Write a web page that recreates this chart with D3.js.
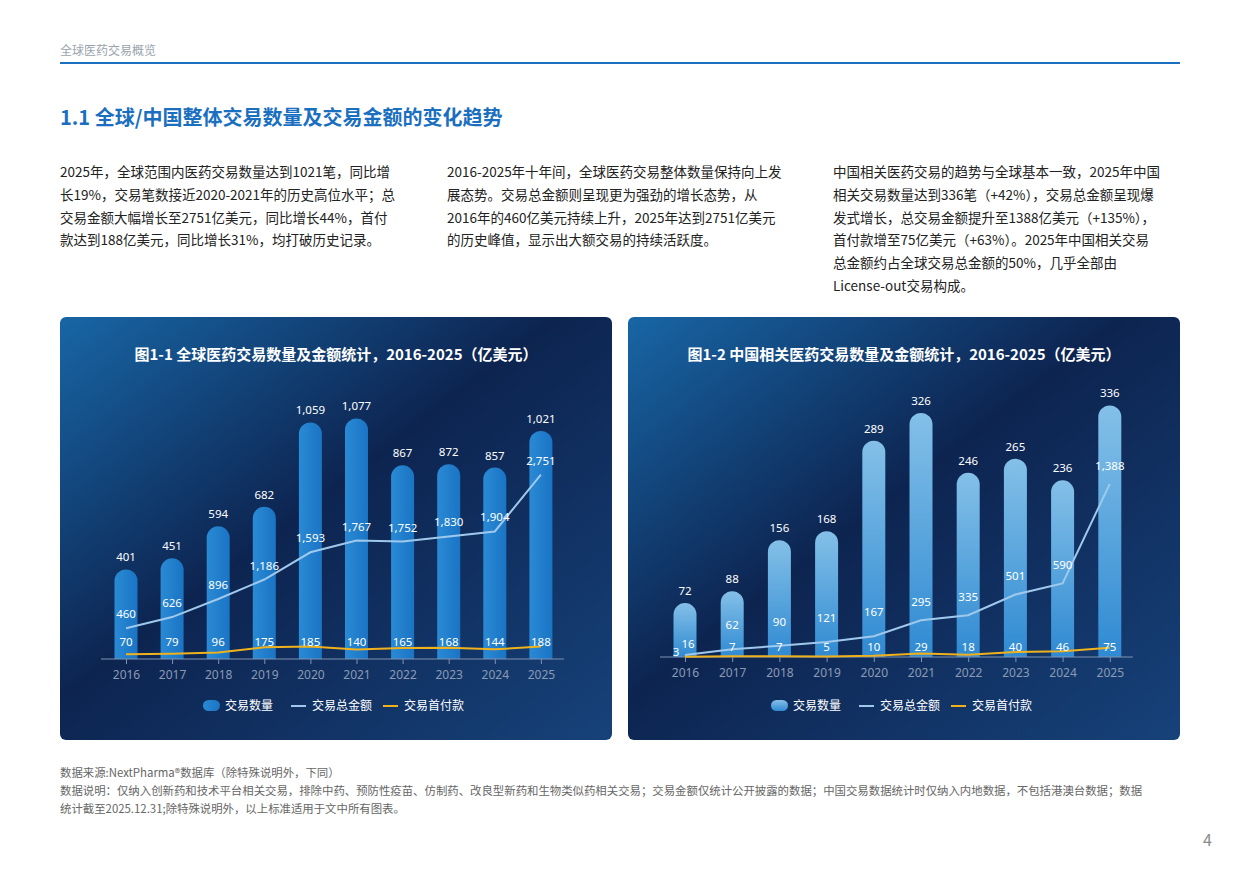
<!DOCTYPE html>
<html><head><meta charset="utf-8">
<script src="https://cdn.jsdelivr.net/npm/d3@7"></script>
<style>body{margin:0;background:#fff;font-family:"Noto Sans CJK SC","Noto Sans",sans-serif;}</style>
</head><body><svg id="page" width="1240" height="876"></svg>
<script>
let years = ["2016","2017","2018","2019","2020","2021","2022","2023","2024","2025"];
let global_count = [401,451,594,682,1059,1077,867,872,857,1021];
let global_amount = [460,626,896,1186,1593,1767,1752,1830,1904,2751];
let global_upfront = [70,79,96,175,185,140,165,168,144,188];
let china_count = [72,88,156,168,289,326,246,265,236,336];
let china_amount = [16,62,90,121,167,295,335,501,590,1388];
let china_upfront = [3,7,7,5,10,29,18,40,46,75];
let legend_names = ["交易数量","交易总金额","交易首付款"];

let paragraphs = [
  {x:60, lines:["2025年，全球范围内医药交易数量达到1021笔，同比增","长19%，交易笔数接近2020-2021年的历史高位水平；总","交易金额大幅增长至2751亿美元，同比增长44%，首付","款达到188亿美元，同比增长31%，均打破历史记录。"]},
  {x:447, lines:["2016-2025年十年间，全球医药交易整体数量保持向上发","展态势。交易总金额则呈现更为强劲的增长态势，从","2016年的460亿美元持续上升，2025年达到2751亿美元","的历史峰值，显示出大额交易的持续活跃度。"]},
  {x:833, lines:["中国相关医药交易的趋势与全球基本一致，2025年中国","相关交易数量达到336笔（+42%），交易总金额呈现爆","发式增长，总交易金额提升至1388亿美元（+135%），","首付款增至75亿美元（+63%）。2025年中国相关交易","总金额约占全球交易总金额的50%，几乎全部由","License-out交易构成。"]}
];

let svg = d3.select("#page");
let defs = svg.append("defs");

// header
svg.append("text").attr("x",60).attr("y",55).attr("font-size",12).attr("fill","#9aa3ad").text("全球医药交易概览");
svg.append("line").attr("x1",60).attr("x2",1180).attr("y1",63).attr("y2",63).attr("stroke","#1b6fc0").attr("stroke-width",2);
svg.append("text").attr("x",60).attr("y",125).attr("font-size",20).attr("font-weight","bold").attr("fill","#1a6fc0").text("1.1 全球/中国整体交易数量及交易金额的变化趋势");

paragraphs.forEach((p)=>{
    p.lines.forEach((l,i)=>{
        svg.append("text").attr("x",p.x).attr("y",177+i*22.8).attr("font-size",13.5).attr("fill","#222").text(l);
    })
})

// panel gradients
let bg = defs.append("linearGradient").attr("id","panel_bg").attr("x1","0").attr("y1","0").attr("x2","1").attr("y2","1");
bg.append("stop").attr("offset","0").attr("stop-color","#1866a6");
bg.append("stop").attr("offset","0.45").attr("stop-color","#0d2450");
bg.append("stop").attr("offset","1").attr("stop-color","#16427a");

let bar_left = defs.append("linearGradient").attr("id","bar_left").attr("x1","0").attr("y1","0").attr("x2","1").attr("y2","0");
bar_left.append("stop").attr("offset","0").attr("stop-color","#2a8ad4");
bar_left.append("stop").attr("offset","1").attr("stop-color","#1a74c4");
let bar_right = defs.append("linearGradient").attr("id","bar_right").attr("x1","0").attr("y1","0").attr("x2","0").attr("y2","1");
bar_right.append("stop").attr("offset","0").attr("stop-color","#84c0e8");
bar_right.append("stop").attr("offset","1").attr("stop-color","#2f8ad2");

function draw_panel(cfg){
    let g = svg.append("g");
    g.append("rect").attr("x",cfg.x).attr("y",317).attr("width",552).attr("height",423).attr("rx",6).attr("fill","url(#panel_bg)");
    g.append("text").attr("x",cfg.x+276).attr("y",360).attr("text-anchor","middle").attr("font-size",15).attr("font-weight","bold").attr("fill","#fff").text(cfg.title);

    let xScale = d3.scalePoint().domain(years).range([cfg.x0, cfg.x0+cfg.step*9]);
    let yBar = d3.scaleLinear().domain([0,cfg.barMax]).range([cfg.base, cfg.base-cfg.h]);
    let yLine = d3.scaleLinear().domain([0,cfg.lineMax]).range([cfg.base, cfg.base-cfg.h]);
    let bw = 23;

    g.selectAll(".bar").data(cfg.count).join("path")
        .attr("fill",cfg.barFill)
        .attr("d",(d,i)=>{
            let x = xScale(years[i])-bw/2, top = yBar(d), r = bw/2;
            return `M${x},${cfg.base}V${top+r}A${r},${r} 0 0 1 ${x+bw},${top+r}V${cfg.base}Z`;
        });

    let xAxis = g.append("g").attr("transform",`translate(0,${cfg.base})`)
        .call(d3.axisBottom(xScale).tickSize(5).tickPadding(6));
    xAxis.select(".domain").attr("d",`M${cfg.x0-25},0H${cfg.x0+cfg.step*9+23}`).attr("stroke","#7f93b3");
    xAxis.selectAll(".tick line").attr("stroke","#7f93b3");
    xAxis.selectAll("text").attr("fill","#8c9bb5").attr("font-size",12).attr("font-family","Noto Sans");

    let line = (scale)=>d3.line().x((d,i)=>xScale(years[i])).y(d=>scale(d));
    g.append("path").datum(cfg.amount).attr("d",line(yLine)).attr("fill","none").attr("stroke","#9fc9ec").attr("stroke-width",2);
    g.append("path").datum(cfg.upfront).attr("d",line(yLine)).attr("fill","none").attr("stroke","#f0b21c").attr("stroke-width",2);

    let lab = (data,yf,dx)=>g.append("g").selectAll("text").data(data).join("text")
        .attr("x",(d,i)=>xScale(years[i])+(dx?dx(i):0)).attr("y",yf)
        .attr("text-anchor","middle").attr("font-size",11.5).attr("fill","#fff").attr("font-family","Noto Sans")
        .text(d=>d3.format(",")(d));
    lab(cfg.count,(d)=>yBar(d)-8);
    lab(cfg.amount,cfg.amtY,cfg.amountDx);
    lab(cfg.upfront,cfg.upY,cfg.upDx);

    // legend
    let lx = cfg.x + 143, ly = 706;
    g.append("rect").attr("x",lx).attr("y",ly-6).attr("width",17).attr("height",11).attr("rx",5.5).attr("fill",cfg.barFill);
    g.append("text").attr("x",lx+22).attr("y",ly+4).attr("font-size",12).attr("fill","#fff").text(legend_names[0]);
    g.append("line").attr("x1",lx+88).attr("x2",lx+103).attr("y1",ly).attr("y2",ly).attr("stroke","#9fc9ec").attr("stroke-width",2);
    g.append("text").attr("x",lx+109).attr("y",ly+4).attr("font-size",12).attr("fill","#fff").text(legend_names[1]);
    g.append("line").attr("x1",lx+180).attr("x2",lx+195).attr("y1",ly).attr("y2",ly).attr("stroke","#f0b21c").attr("stroke-width",2);
    g.append("text").attr("x",lx+201).attr("y",ly+4).attr("font-size",12).attr("fill","#fff").text(legend_names[2]);
    return yLine;
}

let yl1, yl2;
yl1 = draw_panel({x:60, title:"图1-1  全球医药交易数量及金额统计，2016-2025（亿美元）",
    count:global_count, amount:global_amount, upfront:global_upfront,
    x0:126, step:46.1, base:659, h:268, barMax:1200, lineMax:4000,
    barFill:"url(#bar_left)", upY:()=>646, amtY:(d)=>yl1 ? 0 : 0});
</script>
<script>
// redo label positions after scales exist
</script>
<script>
d3.select("#page").selectAll("*").remove();
</script>
<script>
// final draw with label rules bound to scales
(function(){
let svg2 = d3.select("#page");
})();
</script>
<script>
// rebuild everything cleanly
svg = d3.select("#page");
defs = svg.append("defs");
svg.append("text").attr("x",60).attr("y",55).attr("font-size",12).attr("fill","#9aa3ad").text("全球医药交易概览");
svg.append("line").attr("x1",60).attr("x2",1180).attr("y1",63).attr("y2",63).attr("stroke","#1b6fc0").attr("stroke-width",2);
svg.append("text").attr("x",60).attr("y",125).attr("font-size",20).attr("font-weight","bold").attr("fill","#1a6fc0").text("1.1 全球/中国整体交易数量及交易金额的变化趋势");
paragraphs.forEach((p)=>{
    p.lines.forEach((l,i)=>{
        svg.append("text").attr("x",p.x).attr("y",177+i*22.8).attr("font-size",13.5).attr("fill","#222").text(l);
    })
})
bg = defs.append("linearGradient").attr("id","panel_bg").attr("x1","0").attr("y1","0").attr("x2","1").attr("y2","1");
bg.append("stop").attr("offset","0").attr("stop-color","#1866a6");
bg.append("stop").attr("offset","0.45").attr("stop-color","#0d2450");
bg.append("stop").attr("offset","1").attr("stop-color","#16427a");
bar_left = defs.append("linearGradient").attr("id","bar_left").attr("x1","0").attr("y1","0").attr("x2","1").attr("y2","0");
bar_left.append("stop").attr("offset","0").attr("stop-color","#2a8ad4");
bar_left.append("stop").attr("offset","1").attr("stop-color","#1a74c4");
bar_right = defs.append("linearGradient").attr("id","bar_right").attr("x1","0").attr("y1","0").attr("x2","0").attr("y2","1");
bar_right.append("stop").attr("offset","0").attr("stop-color","#84c0e8");
bar_right.append("stop").attr("offset","1").attr("stop-color","#2f8ad2");

let s1 = d3.scaleLinear().domain([0,4000]).range([659,391]);
let s2 = d3.scaleLinear().domain([0,2100]).range([657,395]);
draw_panel({x:60, title:"图1-1  全球医药交易数量及金额统计，2016-2025（亿美元）",
    count:global_count, amount:global_amount, upfront:global_upfront,
    x0:126, step:46.1, base:659, h:268, barMax:1200, lineMax:4000,
    barFill:"url(#bar_left)", upY:()=>646, amtY:(d)=>s1(d)-10});
draw_panel({x:628, title:"图1-2 中国相关医药交易数量及金额统计，2016-2025（亿美元）",
    count:china_count, amount:china_amount, upfront:china_upfront,
    x0:685, step:47.2, base:657, h:262, barMax:350, lineMax:2100,
    barFill:"url(#bar_right)",
    upY:(d,i)=>i===0?656:651, upDx:(i)=>i===0?-9:0,
    amtY:(d,i)=>i===0?648:s2(d)-(i<5?20:14), amountDx:(i)=>i===0?3:0});

let notes = ["数据来源:NextPharma®数据库（除特殊说明外，下同）",
 "数据说明：仅纳入创新药和技术平台相关交易，排除中药、预防性疫苗、仿制药、改良型新药和生物类似药相关交易；交易金额仅统计公开披露的数据；中国交易数据统计时仅纳入内地数据，不包括港澳台数据；数据",
 "统计截至2025.12.31;除特殊说明外，以上标准适用于文中所有图表。"];
notes.forEach((n,i)=>svg.append("text").attr("x",60).attr("y",777+i*18).attr("font-size",11.4).attr("fill","#666").text(n));
svg.append("text").attr("x",1212).attr("y",846).attr("text-anchor","end").attr("font-size",16).attr("fill","#8a8a8a").text("4");
</script></body></html>
